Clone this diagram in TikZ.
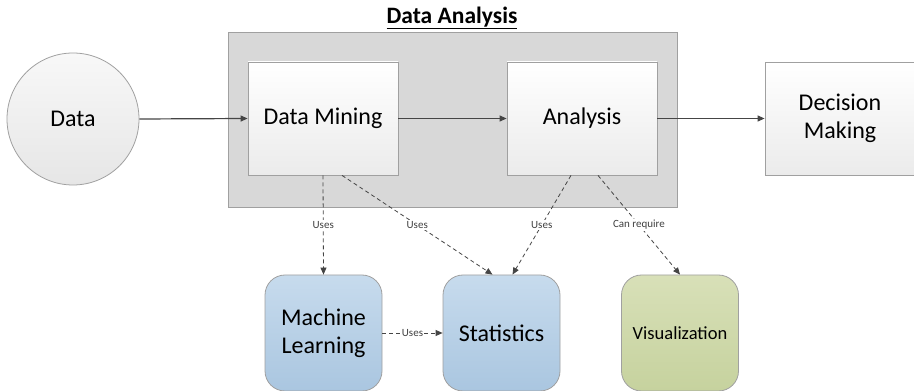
\documentclass[tikz,border=0pt]{standalone}
\usepackage{fontspec}
\setmainfont{Carlito}
\usetikzlibrary{arrows.meta,positioning}
\definecolor{linec}{HTML}{454545}
\definecolor{borderc}{HTML}{A0A0A0}
\definecolor{groupfill}{HTML}{D8D8D8}
\definecolor{boxbot}{HTML}{EBEBEB}
\definecolor{circtop}{HTML}{F8F8F8}
\definecolor{circbot}{HTML}{E6E6E6}
\definecolor{bluetop}{HTML}{C7DBED}
\definecolor{bluebot}{HTML}{AAC6E0}
\definecolor{greentop}{HTML}{D8E0B8}
\definecolor{greenbot}{HTML}{C6D29E}
\tikzset{
  procbox/.style={rectangle, draw=borderc, line width=0.8pt, top color=white, bottom color=boxbot,
    minimum width=150pt, minimum height=113pt, font=\fontsize{24}{28.5}\selectfont, align=center, inner sep=0pt},
  toolbox/.style={rectangle, rounded corners=20pt, draw=borderc, line width=0.8pt,
    minimum width=117pt, minimum height=116pt, font=\fontsize{24}{28.5}\selectfont, align=center, inner sep=0pt},
  solidarrow/.style={draw=linec, line width=1.2pt, -{Triangle[length=7pt,width=6pt]}},
  dasharrow/.style={draw=linec, line width=0.8pt, dash pattern=on 4pt off 3pt, -{Triangle[length=7pt,width=6pt]}},
  lbl/.style={fill=white, inner sep=1pt, font=\fontsize{11}{13}\selectfont, text=black!75}
}
\begin{document}
\begin{tikzpicture}[x=1pt,y=1pt]
\useasboundingbox (0,0) rectangle (914,391);
% title
\node (title) at (452,373) {\fontsize{23.5}{27}\selectfont\bfseries\underline{Data Analysis}};
% group box
\node (group) [rectangle, draw=borderc, fill=groupfill, line width=0.8pt, minimum width=449pt, minimum height=175pt, inner sep=0pt] at (452.5,271.5) {};
% data circle
\node (data) [circle, draw=borderc, line width=0.8pt, top color=circtop, bottom color=circbot, minimum size=132pt, inner sep=0pt, font=\fontsize{24}{28}\selectfont] at (73,272) {Data};
% process boxes
\node (dm) [procbox] at (323,272.5) {Data Mining};
\node (an) [procbox] at (582,272.5) {Analysis};
\node (dec) [procbox] at (840,272.5) {Decision\\Making};
% tool boxes
\node (ml) [toolbox, top color=bluetop, bottom color=bluebot] at (323.5,58) {Machine\\Learning};
\node (st) [toolbox, top color=bluetop, bottom color=bluebot] at (501.5,58) {Statistics};
\node (vis) [toolbox, top color=greentop, bottom color=greenbot, font=\fontsize{18.5}{22}\selectfont] at (680,58) {Visualization};
% solid arrows
\draw[solidarrow] (data.east) -- (dm.west);
\draw[solidarrow] (dm.east) -- (an.west);
\draw[solidarrow] (an.east) -- (dec.west);
% dashed arrows
\draw[dasharrow] (dm.south) -- node[lbl] {Uses} (ml.north);
\draw[dasharrow] ([xshift=19pt]dm.south) -- node[lbl] {Uses} ([xshift=-9pt]st.north);
\draw[dasharrow] ([xshift=-11pt]an.south) -- node[lbl] {Uses} ([xshift=11pt]st.north);
\draw[dasharrow] ([xshift=16pt]an.south) -- node[lbl] {Can require} (vis.north);
\draw[dasharrow] (ml.east) -- node[lbl] {Uses} (st.west);
\end{tikzpicture}
\end{document}
